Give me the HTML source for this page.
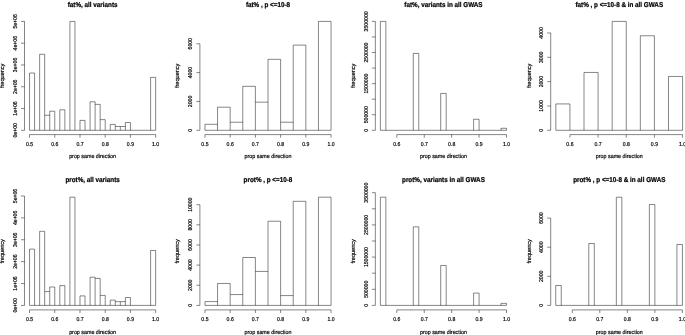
<!DOCTYPE html>
<html><head><meta charset="utf-8"><title>histograms</title>
<style>
html,body{margin:0;padding:0;background:#fff;}
body{width:685px;height:335px;overflow:hidden;}
svg{display:block;}
text{font-family:"Liberation Sans",sans-serif;font-size:5.35px;fill:#000;text-anchor:middle;stroke:#000;stroke-width:0.18px;text-rendering:geometricPrecision;}
text.t{font-size:6.25px;font-weight:bold;stroke-width:0.22px;}
.l path{fill:none;stroke:#000;stroke-width:0.48;}
</style></head><body>
<svg width="685" height="335" viewBox="0 0 685 335">
<rect width="685" height="335" fill="#fff"/>
<g class="l">
<path d="M29.54 73.02H34.59M39.63 54.29H44.68M44.68 115.27H49.72M49.72 111.22H54.77M59.81 109.83H64.86M69.90 21.40H74.94M79.99 120.39H85.03M90.08 101.77H95.12M95.12 104.38H100.17M100.17 119.63H105.21M110.26 124.42H115.30M115.30 126.51H120.34M120.34 126.51H125.39M125.39 122.50H130.43M150.61 77.37H155.66M29.54 130.30V73.02M34.59 130.30V73.02M39.63 130.30V54.29M44.68 130.30V54.29M49.72 130.30V111.22M54.77 130.30V111.22M59.81 130.30V109.83M64.86 130.30V109.83M69.90 130.30V21.40M74.94 130.30V21.40M79.99 130.30V120.39M85.03 130.30V120.39M90.08 130.30V101.77M95.12 130.30V101.77M100.17 130.30V104.38M105.21 130.30V119.63M110.26 130.30V124.42M115.30 130.30V124.42M120.34 130.30V126.51M125.39 130.30V122.50M130.43 130.30V122.50M150.61 130.30V77.37M155.66 130.30V77.37M29.54 130.30H155.66M29.54 134.60H155.66M29.54 134.60v3.1M54.77 134.60v3.1M79.99 134.60v3.1M105.21 134.60v3.1M130.43 134.60v3.1M155.66 134.60v3.1M24.50 130.30V21.40M24.50 130.30h-3.5M24.50 108.52h-3.5M24.50 86.74h-3.5M24.50 64.96h-3.5M24.50 43.18h-3.5M24.50 21.40h-3.5"/>
<path d="M204.94 124.31H217.56M217.56 107.18H230.17M230.17 122.22H242.78M242.78 86.34H255.39M255.39 102.16H268.00M268.00 59.33H280.61M280.61 122.22H293.22M293.22 45.10H305.83M318.44 21.40H331.06M204.94 130.30V124.31M217.56 130.30V107.18M230.17 130.30V107.18M242.78 130.30V86.34M255.39 130.30V86.34M268.00 130.30V59.33M280.61 130.30V59.33M293.22 130.30V45.10M305.83 130.30V45.10M318.44 130.30V21.40M331.06 130.30V21.40M204.94 130.30H331.06M204.94 134.60H331.06M204.94 134.60v3.1M230.17 134.60v3.1M255.39 134.60v3.1M280.61 134.60v3.1M305.83 134.60v3.1M331.06 134.60v3.1M199.90 130.30V43.76M199.90 130.30h-3.5M199.90 101.45h-3.5M199.90 72.60h-3.5M199.90 43.76h-3.5"/>
<path d="M380.39 21.40H385.88M413.29 53.45H418.78M440.71 93.43H446.19M473.61 119.25H479.09M501.02 128.28H506.51M380.39 130.30V21.40M385.88 130.30V21.40M413.29 130.30V53.45M418.78 130.30V53.45M440.71 130.30V93.43M446.19 130.30V93.43M473.61 130.30V119.25M479.09 130.30V119.25M501.02 130.30V128.28M506.51 130.30V128.28M380.39 130.30H506.51M396.84 134.60H506.51M396.84 134.60v3.1M424.26 134.60v3.1M451.67 134.60v3.1M479.09 134.60v3.1M506.51 134.60v3.1M375.35 130.30V21.40M375.35 130.30h-3.5M375.35 114.74h-3.5M375.35 99.19h-3.5M375.35 83.63h-3.5M375.35 68.07h-3.5M375.35 52.51h-3.5M375.35 36.96h-3.5M375.35 21.40h-3.5"/>
<path d="M555.84 103.93H569.93M584.01 72.44H598.09M612.17 21.40H626.26M640.34 35.78H654.42M668.50 76.46H682.59M555.84 130.30V103.93M569.93 130.30V103.93M584.01 130.30V72.44M598.09 130.30V72.44M612.17 130.30V21.40M626.26 130.30V21.40M640.34 130.30V35.78M654.42 130.30V35.78M668.50 130.30V76.46M682.59 130.30V76.46M555.84 130.30H682.59M569.93 134.60H682.59M569.93 134.60v3.1M598.09 134.60v3.1M626.26 134.60v3.1M654.42 134.60v3.1M682.59 134.60v3.1M550.70 130.30V32.98M550.70 130.30h-3.5M550.70 105.97h-3.5M550.70 81.64h-3.5M550.70 57.31h-3.5M550.70 32.98h-3.5"/>
<path d="M29.54 249.10H34.59M39.63 231.31H44.68M44.68 291.59H49.72M49.72 287.00H54.77M59.81 285.60H64.86M69.90 197.20H74.94M79.99 295.90H85.03M90.08 277.20H95.12M95.12 278.40H100.17M100.17 295.40H105.21M110.26 300.13H115.30M115.30 301.64H120.34M120.34 301.64H125.39M125.39 297.50H130.43M150.61 250.48H155.66M29.54 305.40V249.10M34.59 305.40V249.10M39.63 305.40V231.31M44.68 305.40V231.31M49.72 305.40V287.00M54.77 305.40V287.00M59.81 305.40V285.60M64.86 305.40V285.60M69.90 305.40V197.20M74.94 305.40V197.20M79.99 305.40V295.90M85.03 305.40V295.90M90.08 305.40V277.20M95.12 305.40V277.20M100.17 305.40V278.40M105.21 305.40V295.40M110.26 305.40V300.13M115.30 305.40V300.13M120.34 305.40V301.64M125.39 305.40V297.50M130.43 305.40V297.50M150.61 305.40V250.48M155.66 305.40V250.48M29.54 305.40H155.66M29.54 309.90H155.66M29.54 309.90v3.1M54.77 309.90v3.1M79.99 309.90v3.1M105.21 309.90v3.1M130.43 309.90v3.1M155.66 309.90v3.1M24.50 305.40V196.00M24.50 305.40h-3.5M24.50 283.52h-3.5M24.50 261.64h-3.5M24.50 239.76h-3.5M24.50 217.88h-3.5M24.50 196.00h-3.5"/>
<path d="M204.94 301.59H217.56M217.56 283.46H230.17M230.17 294.57H242.78M242.78 257.51H255.39M255.39 271.43H268.00M268.00 221.24H280.61M280.61 295.58H293.22M293.22 201.30H305.83M318.44 197.20H331.06M204.94 305.40V301.59M217.56 305.40V283.46M230.17 305.40V283.46M242.78 305.40V257.51M255.39 305.40V257.51M268.00 305.40V221.24M280.61 305.40V221.24M293.22 305.40V201.30M305.83 305.40V201.30M318.44 305.40V197.20M331.06 305.40V197.20M204.94 305.40H331.06M204.94 309.90H331.06M204.94 309.90v3.1M230.17 309.90v3.1M255.39 309.90v3.1M280.61 309.90v3.1M305.83 309.90v3.1M331.06 309.90v3.1M199.90 305.40V204.70M199.90 305.40h-3.5M199.90 285.26h-3.5M199.90 265.12h-3.5M199.90 244.98h-3.5M199.90 224.84h-3.5M199.90 204.70h-3.5"/>
<path d="M380.39 197.20H385.88M413.29 226.83H418.78M440.71 265.47H446.19M473.61 293.07H479.09M501.02 303.37H506.51M380.39 305.40V197.20M385.88 305.40V197.20M413.29 305.40V226.83M418.78 305.40V226.83M440.71 305.40V265.47M446.19 305.40V265.47M473.61 305.40V293.07M479.09 305.40V293.07M501.02 305.40V303.37M506.51 305.40V303.37M380.39 305.40H506.51M396.84 309.90H506.51M396.84 309.90v3.1M424.26 309.90v3.1M451.67 309.90v3.1M479.09 309.90v3.1M506.51 309.90v3.1M375.35 305.40V192.69M375.35 305.40h-3.5M375.35 289.30h-3.5M375.35 273.20h-3.5M375.35 257.10h-3.5M375.35 241.00h-3.5M375.35 224.89h-3.5M375.35 208.79h-3.5M375.35 192.69h-3.5"/>
<path d="M555.74 285.49H561.25M588.79 243.50H594.30M616.33 197.20H621.84M649.38 204.49H654.88M676.92 244.49H682.42M555.74 305.40V285.49M561.25 305.40V285.49M588.79 305.40V243.50M594.30 305.40V243.50M616.33 305.40V197.20M621.84 305.40V197.20M649.38 305.40V204.49M654.88 305.40V204.49M676.92 305.40V244.49M682.42 305.40V244.49M555.74 305.40H682.42M572.27 309.90H682.42M572.27 309.90v3.1M599.81 309.90v3.1M627.35 309.90v3.1M654.88 309.90v3.1M682.42 309.90v3.1M550.70 305.40V218.09M550.70 305.40h-3.5M550.70 276.30h-3.5M550.70 247.20h-3.5M550.70 218.09h-3.5"/>
</g>
<g style="opacity:0.999">
<text transform="translate(92.60 6.60) scale(1.01 1.13)" class="t">fat%, all variants</text>
<text transform="translate(92.60 158.40) scale(1 1.07)">prop same direction</text>
<text transform="translate(29.54 146.10) scale(0.96 1.07)">0.5</text>
<text transform="translate(54.77 146.10) scale(0.96 1.07)">0.6</text>
<text transform="translate(79.99 146.10) scale(0.96 1.07)">0.7</text>
<text transform="translate(105.21 146.10) scale(0.96 1.07)">0.8</text>
<text transform="translate(130.43 146.10) scale(0.96 1.07)">0.9</text>
<text transform="translate(155.66 146.10) scale(0.96 1.07)">1.0</text>
<text transform="translate(4.10 75.82) rotate(-90) scale(1.04 1.07)">frequency</text>
<text transform="translate(17.00 130.30) rotate(-90) scale(0.96 1.07)">0e+00</text>
<text transform="translate(17.00 108.52) rotate(-90) scale(0.96 1.07)">1e+06</text>
<text transform="translate(17.00 86.74) rotate(-90) scale(0.96 1.07)">2e+06</text>
<text transform="translate(17.00 64.96) rotate(-90) scale(0.96 1.07)">3e+06</text>
<text transform="translate(17.00 43.18) rotate(-90) scale(0.96 1.07)">4e+06</text>
<text transform="translate(17.00 21.40) rotate(-90) scale(0.96 1.07)">5e+06</text>
<text transform="translate(268.00 6.60) scale(1.01 1.13)" class="t">fat% , p &lt;=10-8</text>
<text transform="translate(268.00 158.40) scale(1 1.07)">prop same direction</text>
<text transform="translate(204.94 146.10) scale(0.96 1.07)">0.5</text>
<text transform="translate(230.17 146.10) scale(0.96 1.07)">0.6</text>
<text transform="translate(255.39 146.10) scale(0.96 1.07)">0.7</text>
<text transform="translate(280.61 146.10) scale(0.96 1.07)">0.8</text>
<text transform="translate(305.83 146.10) scale(0.96 1.07)">0.9</text>
<text transform="translate(331.06 146.10) scale(0.96 1.07)">1.0</text>
<text transform="translate(179.20 75.82) rotate(-90) scale(1.04 1.07)">frequency</text>
<text transform="translate(192.40 130.30) rotate(-90) scale(0.96 1.07)">0</text>
<text transform="translate(192.40 101.45) rotate(-90) scale(0.96 1.07)">2000</text>
<text transform="translate(192.40 72.60) rotate(-90) scale(0.96 1.07)">4000</text>
<text transform="translate(192.40 43.76) rotate(-90) scale(0.96 1.07)">6000</text>
<text transform="translate(443.45 6.60) scale(1.01 1.13)" class="t">fat%, variants in all GWAS</text>
<text transform="translate(443.45 158.40) scale(1 1.07)">prop same direction</text>
<text transform="translate(396.84 146.10) scale(0.96 1.07)">0.6</text>
<text transform="translate(424.26 146.10) scale(0.96 1.07)">0.7</text>
<text transform="translate(451.67 146.10) scale(0.96 1.07)">0.8</text>
<text transform="translate(479.09 146.10) scale(0.96 1.07)">0.9</text>
<text transform="translate(506.51 146.10) scale(0.96 1.07)">1.0</text>
<text transform="translate(355.35 75.82) rotate(-90) scale(1.04 1.07)">frequency</text>
<text transform="translate(367.85 130.30) rotate(-90) scale(0.96 1.07)">0</text>
<text transform="translate(367.85 114.74) rotate(-90) scale(0.96 1.07)">500000</text>
<text transform="translate(367.85 83.63) rotate(-90) scale(0.96 1.07)">1500000</text>
<text transform="translate(367.85 52.51) rotate(-90) scale(0.96 1.07)">2500000</text>
<text transform="translate(367.85 21.40) rotate(-90) scale(0.96 1.07)">3500000</text>
<text transform="translate(619.30 6.60) scale(1.01 1.13)" class="t">fat% , p &lt;=10-8 &amp; in all GWAS</text>
<text transform="translate(619.30 158.40) scale(1 1.07)">prop same direction</text>
<text transform="translate(569.93 146.10) scale(0.96 1.07)">0.6</text>
<text transform="translate(598.09 146.10) scale(0.96 1.07)">0.7</text>
<text transform="translate(626.26 146.10) scale(0.96 1.07)">0.8</text>
<text transform="translate(654.42 146.10) scale(0.96 1.07)">0.9</text>
<text transform="translate(682.59 146.10) scale(0.96 1.07)">1.0</text>
<text transform="translate(530.90 75.82) rotate(-90) scale(1.04 1.07)">frequency</text>
<text transform="translate(543.20 130.30) rotate(-90) scale(0.96 1.07)">0</text>
<text transform="translate(543.20 105.97) rotate(-90) scale(0.96 1.07)">1000</text>
<text transform="translate(543.20 81.64) rotate(-90) scale(0.96 1.07)">2000</text>
<text transform="translate(543.20 57.31) rotate(-90) scale(0.96 1.07)">3000</text>
<text transform="translate(543.20 32.98) rotate(-90) scale(0.96 1.07)">4000</text>
<text transform="translate(92.60 182.10) scale(1.01 1.13)" class="t">prot%, all variants</text>
<text transform="translate(92.60 333.80) scale(1 1.07)">prop same direction</text>
<text transform="translate(29.54 321.00) scale(0.96 1.07)">0.5</text>
<text transform="translate(54.77 321.00) scale(0.96 1.07)">0.6</text>
<text transform="translate(79.99 321.00) scale(0.96 1.07)">0.7</text>
<text transform="translate(105.21 321.00) scale(0.96 1.07)">0.8</text>
<text transform="translate(130.43 321.00) scale(0.96 1.07)">0.9</text>
<text transform="translate(155.66 321.00) scale(0.96 1.07)">1.0</text>
<text transform="translate(4.10 251.37) rotate(-90) scale(1.04 1.07)">frequency</text>
<text transform="translate(17.00 305.40) rotate(-90) scale(0.96 1.07)">0e+00</text>
<text transform="translate(17.00 283.52) rotate(-90) scale(0.96 1.07)">1e+06</text>
<text transform="translate(17.00 261.64) rotate(-90) scale(0.96 1.07)">2e+06</text>
<text transform="translate(17.00 239.76) rotate(-90) scale(0.96 1.07)">3e+06</text>
<text transform="translate(17.00 217.88) rotate(-90) scale(0.96 1.07)">4e+06</text>
<text transform="translate(17.00 196.00) rotate(-90) scale(0.96 1.07)">5e+06</text>
<text transform="translate(268.00 182.10) scale(1.01 1.13)" class="t">prot% , p &lt;=10-8</text>
<text transform="translate(268.00 333.80) scale(1 1.07)">prop same direction</text>
<text transform="translate(204.94 321.00) scale(0.96 1.07)">0.5</text>
<text transform="translate(230.17 321.00) scale(0.96 1.07)">0.6</text>
<text transform="translate(255.39 321.00) scale(0.96 1.07)">0.7</text>
<text transform="translate(280.61 321.00) scale(0.96 1.07)">0.8</text>
<text transform="translate(305.83 321.00) scale(0.96 1.07)">0.9</text>
<text transform="translate(331.06 321.00) scale(0.96 1.07)">1.0</text>
<text transform="translate(179.20 251.37) rotate(-90) scale(1.04 1.07)">frequency</text>
<text transform="translate(192.40 305.40) rotate(-90) scale(0.96 1.07)">0</text>
<text transform="translate(192.40 285.26) rotate(-90) scale(0.96 1.07)">2000</text>
<text transform="translate(192.40 265.12) rotate(-90) scale(0.96 1.07)">4000</text>
<text transform="translate(192.40 244.98) rotate(-90) scale(0.96 1.07)">6000</text>
<text transform="translate(192.40 224.84) rotate(-90) scale(0.96 1.07)">8000</text>
<text transform="translate(192.40 204.70) rotate(-90) scale(0.96 1.07)">10000</text>
<text transform="translate(443.45 182.10) scale(1.01 1.13)" class="t">prot%, variants in all GWAS</text>
<text transform="translate(443.45 333.80) scale(1 1.07)">prop same direction</text>
<text transform="translate(396.84 321.00) scale(0.96 1.07)">0.6</text>
<text transform="translate(424.26 321.00) scale(0.96 1.07)">0.7</text>
<text transform="translate(451.67 321.00) scale(0.96 1.07)">0.8</text>
<text transform="translate(479.09 321.00) scale(0.96 1.07)">0.9</text>
<text transform="translate(506.51 321.00) scale(0.96 1.07)">1.0</text>
<text transform="translate(355.35 251.37) rotate(-90) scale(1.04 1.07)">frequency</text>
<text transform="translate(367.85 305.40) rotate(-90) scale(0.96 1.07)">0</text>
<text transform="translate(367.85 289.30) rotate(-90) scale(0.96 1.07)">500000</text>
<text transform="translate(367.85 257.10) rotate(-90) scale(0.96 1.07)">1500000</text>
<text transform="translate(367.85 224.89) rotate(-90) scale(0.96 1.07)">2500000</text>
<text transform="translate(367.85 192.69) rotate(-90) scale(0.96 1.07)">3500000</text>
<text transform="translate(619.30 182.10) scale(1.01 1.13)" class="t">prot% , p &lt;=10-8 &amp; in all GWAS</text>
<text transform="translate(619.30 333.80) scale(1 1.07)">prop same direction</text>
<text transform="translate(572.27 321.00) scale(0.96 1.07)">0.6</text>
<text transform="translate(599.81 321.00) scale(0.96 1.07)">0.7</text>
<text transform="translate(627.35 321.00) scale(0.96 1.07)">0.8</text>
<text transform="translate(654.88 321.00) scale(0.96 1.07)">0.9</text>
<text transform="translate(682.42 321.00) scale(0.96 1.07)">1.0</text>
<text transform="translate(530.90 251.37) rotate(-90) scale(1.04 1.07)">frequency</text>
<text transform="translate(543.20 305.40) rotate(-90) scale(0.96 1.07)">0</text>
<text transform="translate(543.20 276.30) rotate(-90) scale(0.96 1.07)">2000</text>
<text transform="translate(543.20 247.20) rotate(-90) scale(0.96 1.07)">4000</text>
<text transform="translate(543.20 218.09) rotate(-90) scale(0.96 1.07)">6000</text>
</g>
</svg>
</body></html>
